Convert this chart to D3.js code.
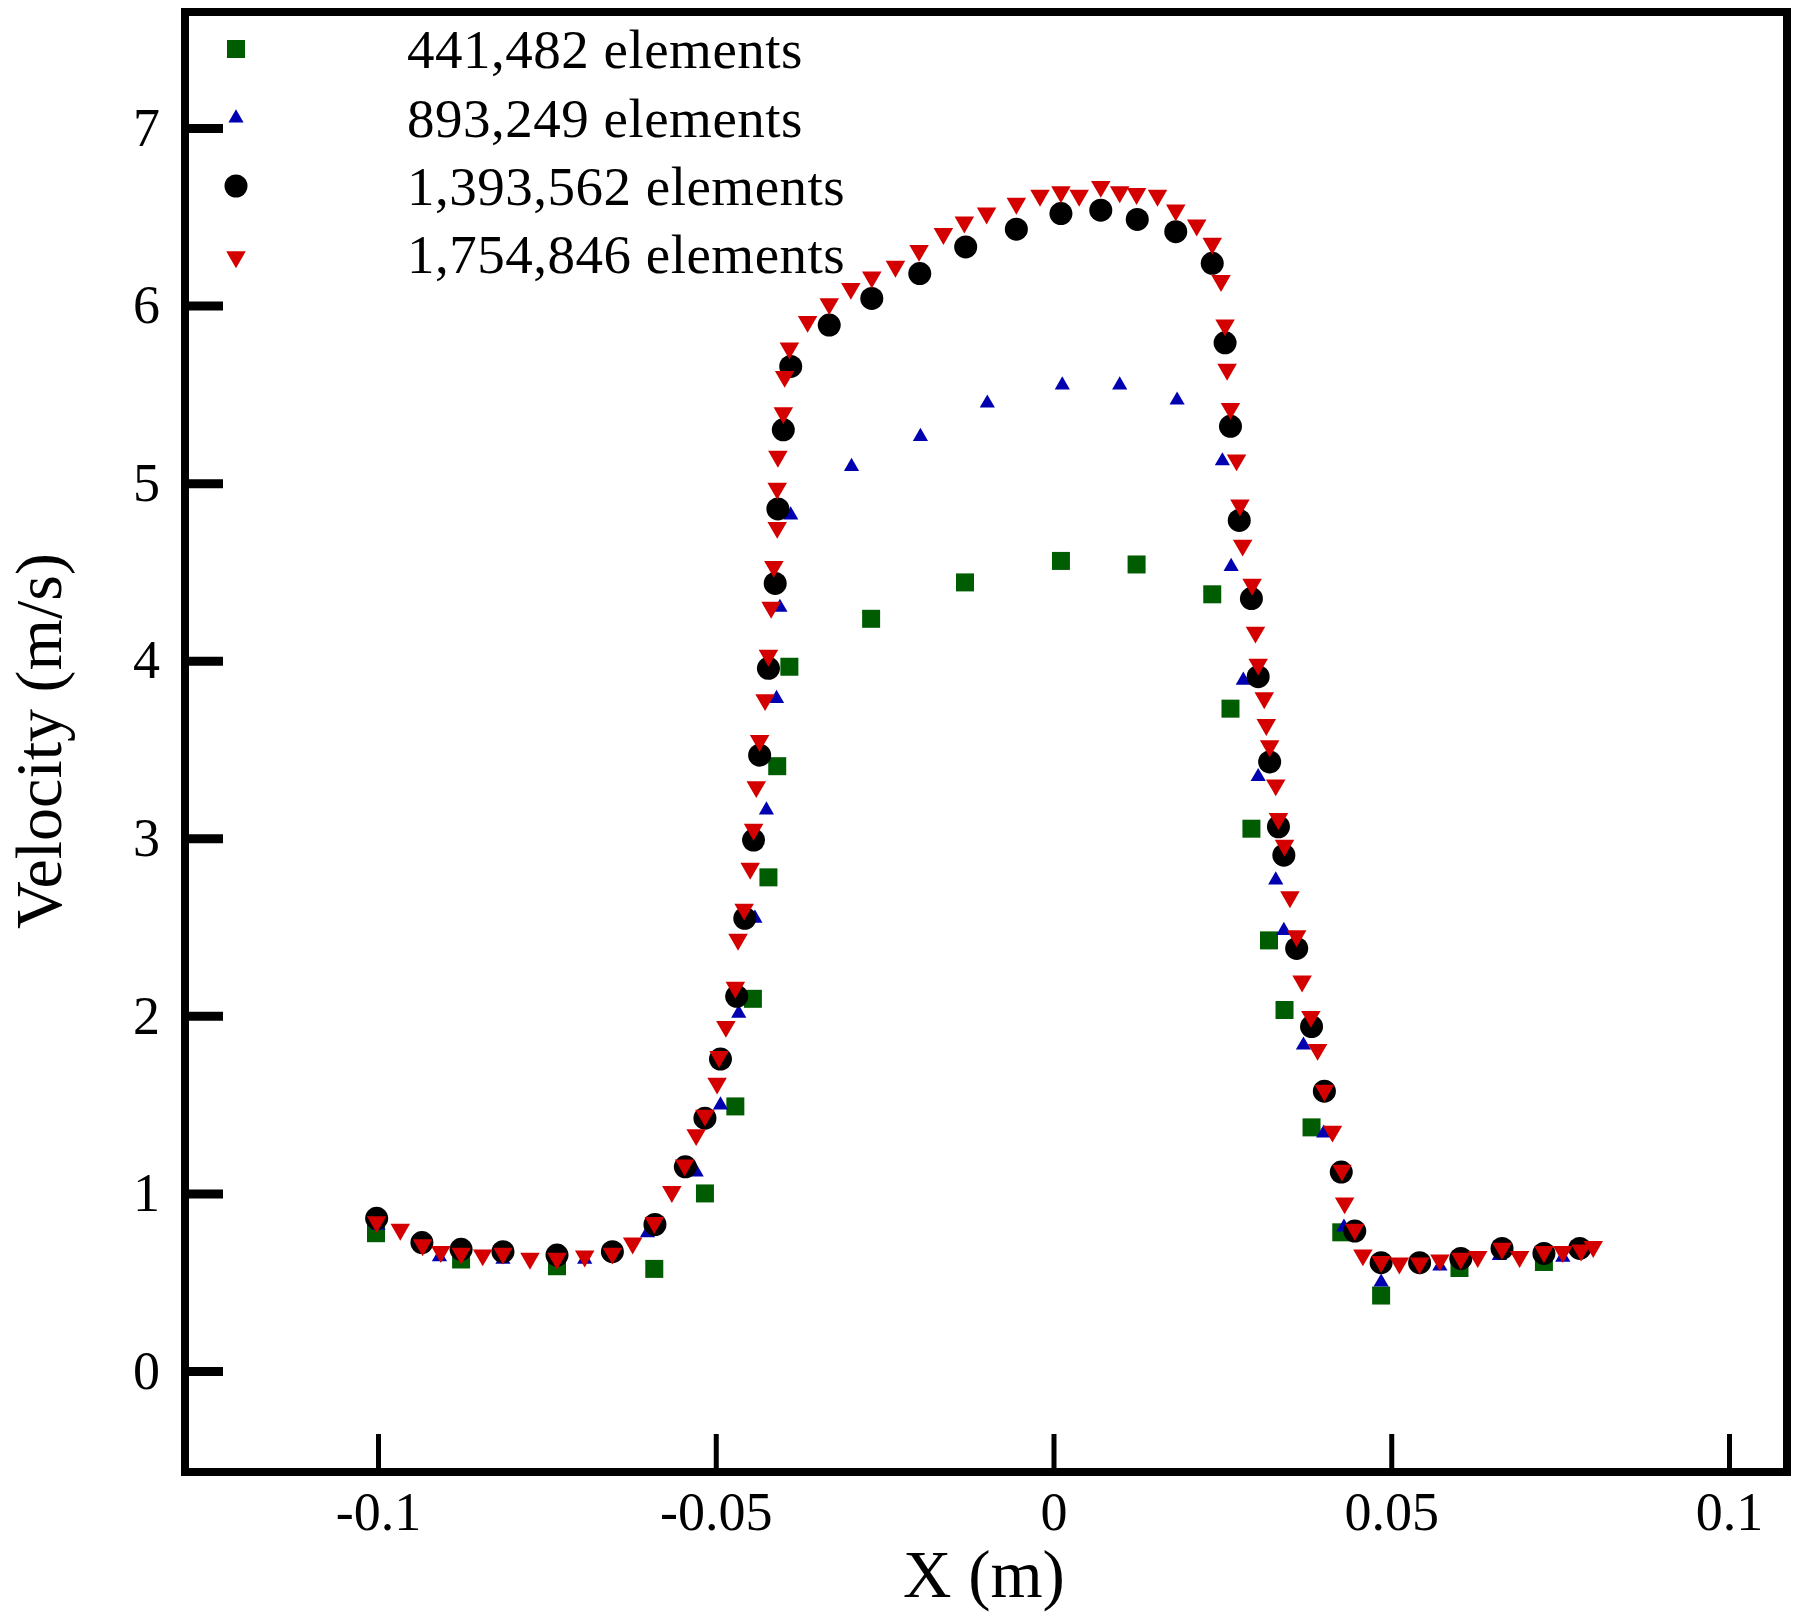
<!DOCTYPE html>
<html>
<head>
<meta charset="utf-8">
<script src="https://cdn.jsdelivr.net/npm/d3@7"></script>
<style>
  html, body { margin: 0; padding: 0; background: #fff; }
  svg { display: block; }
  text { font-family: "Liberation Serif", "Times New Roman", serif; fill: #000; }
</style>
</head>
<body>
<script>
// ---------- data ----------
const seriesNames = ["441,482 elements", "893,249 elements", "1,393,562 elements", "1,754,846 elements"];
const seriesColors = ["#005c00", "#0000b0", "#000000", "#d40000"];

const mesh441 = [
  [-0.1003, 0.776], [-0.0877, 0.628], [-0.0735, 0.590], [-0.0591, 0.575], [-0.0516, 1.000],
  [-0.0471, 1.490], [-0.0445, 2.096], [-0.0422, 2.780], [-0.0409, 3.406], [-0.0391, 3.966],
  [-0.0270, 4.236], [-0.0131, 4.441], [0.0011, 4.562], [0.0123, 4.542], [0.0235, 4.374],
  [0.0262, 3.730], [0.0293, 3.054], [0.0319, 2.425], [0.0342, 2.033], [0.0382, 1.372],
  [0.0426, 0.781], [0.0485, 0.425], [0.0601, 0.580], [0.0726, 0.614]
];

const mesh893 = [
  [-0.1000, 0.820], [-0.0909, 0.643], [-0.0815, 0.628], [-0.0694, 0.628], [-0.0601, 0.778],
  [-0.0529, 1.120], [-0.0493, 1.498], [-0.0466, 2.014], [-0.0442, 2.549], [-0.0425, 3.159],
  [-0.0410, 3.787], [-0.0405, 4.300], [-0.0389, 4.820], [-0.0299, 5.093], [-0.0197, 5.262],
  [-0.0098, 5.450], [0.0013, 5.552], [0.0098, 5.552], [0.0183, 5.467], [0.0250, 5.125],
  [0.0263, 4.530], [0.0281, 3.890], [0.0303, 3.347], [0.0329, 2.765], [0.0341, 2.480],
  [0.0370, 1.835], [0.0400, 1.339], [0.0430, 0.810], [0.0485, 0.500], [0.0572, 0.590],
  [0.0660, 0.650], [0.0754, 0.640]
];

const mesh1393 = [
  [-0.1002, 0.860], [-0.0935, 0.723], [-0.0877, 0.685], [-0.0815, 0.672], [-0.0735, 0.653],
  [-0.0653, 0.672], [-0.0590, 0.825], [-0.0545, 1.150], [-0.0516, 1.424], [-0.0493, 1.757],
  [-0.0469, 2.110], [-0.0457, 2.549], [-0.0444, 2.990], [-0.0435, 3.468], [-0.0422, 3.957],
  [-0.0412, 4.435], [-0.0408, 4.855], [-0.0400, 5.300], [-0.0389, 5.657], [-0.0332, 5.890],
  [-0.0269, 6.040], [-0.0198, 6.180], [-0.0130, 6.330], [-0.0055, 6.430], [0.0011, 6.518],
  [0.0070, 6.537], [0.0124, 6.485], [0.0181, 6.416], [0.0235, 6.238], [0.0254, 5.790],
  [0.0262, 5.320], [0.0275, 4.790], [0.0293, 4.350], [0.0303, 3.910], [0.0320, 3.430],
  [0.0333, 3.065], [0.0341, 2.905], [0.0360, 2.380], [0.0382, 1.940], [0.0401, 1.576],
  [0.0426, 1.120], [0.0446, 0.788], [0.0485, 0.610], [0.0542, 0.610], [0.0603, 0.634],
  [0.0664, 0.690], [0.0726, 0.662], [0.0779, 0.690]
];

const mesh1754 = [
  [-0.1002, 0.840], [-0.0967, 0.797], [-0.0934, 0.710], [-0.0907, 0.672], [-0.0877, 0.663],
  [-0.0845, 0.653], [-0.0815, 0.663], [-0.0775, 0.634], [-0.0735, 0.634], [-0.0694, 0.647],
  [-0.0653, 0.663], [-0.0623, 0.720], [-0.0591, 0.835], [-0.0565, 1.010], [-0.0546, 1.160],
  [-0.0529, 1.330], [-0.0516, 1.440], [-0.0498, 1.620], [-0.0495, 1.770], [-0.0485, 1.940],
  [-0.0471, 2.160], [-0.0467, 2.430], [-0.0458, 2.600], [-0.0449, 2.830], [-0.0444, 3.050],
  [-0.0440, 3.290], [-0.0435, 3.550], [-0.0427, 3.780], [-0.0422, 4.030], [-0.0418, 4.300],
  [-0.0414, 4.530], [-0.0409, 4.750], [-0.0409, 4.970], [-0.0408, 5.150], [-0.0400, 5.395],
  [-0.0398, 5.600], [-0.0391, 5.760], [-0.0364, 5.910], [-0.0332, 6.010], [-0.0300, 6.096],
  [-0.0269, 6.160], [-0.0234, 6.220], [-0.0199, 6.310], [-0.0163, 6.405], [-0.0132, 6.470],
  [-0.0099, 6.520], [-0.0055, 6.575], [-0.0020, 6.620], [0.0011, 6.640], [0.0038, 6.620],
  [0.0070, 6.670], [0.0098, 6.640], [0.0123, 6.630], [0.0154, 6.620], [0.0181, 6.537],
  [0.0212, 6.453], [0.0235, 6.350], [0.0248, 6.140], [0.0254, 5.890], [0.0257, 5.640],
  [0.0262, 5.420], [0.0271, 5.130], [0.0276, 4.876], [0.0280, 4.650], [0.0294, 4.430],
  [0.0299, 4.160], [0.0303, 3.980], [0.0312, 3.790], [0.0315, 3.640], [0.0320, 3.520],
  [0.0329, 3.300], [0.0333, 3.110], [0.0342, 2.960], [0.0350, 2.670], [0.0360, 2.450],
  [0.0368, 2.195], [0.0381, 1.996], [0.0391, 1.810], [0.0401, 1.580], [0.0413, 1.350],
  [0.0427, 1.130], [0.0431, 0.946], [0.0446, 0.797], [0.0458, 0.653], [0.0485, 0.616],
  [0.0512, 0.607], [0.0542, 0.607], [0.0572, 0.625], [0.0603, 0.634], [0.0628, 0.644],
  [0.0664, 0.690], [0.0690, 0.644], [0.0726, 0.672], [0.0754, 0.672], [0.0781, 0.680],
  [0.0799, 0.700]
];

const xTickValues = [-0.1, -0.05, 0, 0.05, 0.1];
const xTickLabels = ["-0.1", "-0.05", "0", "0.05", "0.1"];
const yTickValues = [0, 1, 2, 3, 4, 5, 6, 7];
const yTickLabels = ["0", "1", "2", "3", "4", "5", "6", "7"];
const xTitle = "X (m)";
const yTitle = "Velocity (m/s)";

// ---------- layout ----------
const W = 1798, H = 1618;
const frame = { left: 185, right: 1787, top: 12, bottom: 1472 };

const svg = d3.select("body").append("svg").attr("width", W).attr("height", H);

const x = d3.scaleLinear().domain([-0.1, 0.1]).range([378, 1729]);
const y = d3.scaleLinear().domain([0, 7]).range([1371, 128]);

// frame
svg.append("rect")
  .attr("x", frame.left).attr("y", frame.top)
  .attr("width", frame.right - frame.left).attr("height", frame.bottom - frame.top)
  .attr("fill", "none").attr("stroke", "#000").attr("stroke-width", 8);

// y axis
const yAxis = d3.axisLeft(y)
  .tickValues(yTickValues)
  .tickFormat((d, i) => yTickLabels[i])
  .tickSizeInner(-38).tickSizeOuter(0).tickPadding(25);
const gy = svg.append("g").attr("transform", `translate(${frame.left},0)`).call(yAxis);
gy.select(".domain").remove();
gy.selectAll(".tick line").attr("stroke", "#000").attr("stroke-width", 9);
gy.selectAll(".tick text").attr("font-size", 54).attr("font-family", "Liberation Serif").attr("fill", "#000");

// x axis
const xAxis = d3.axisBottom(x)
  .tickValues(xTickValues)
  .tickFormat((d, i) => xTickLabels[i])
  .tickSizeInner(-38).tickSizeOuter(0).tickPadding(20);
const gx = svg.append("g").attr("transform", `translate(0,${frame.bottom})`).call(xAxis);
gx.select(".domain").remove();
gx.selectAll(".tick line").attr("stroke", "#000").attr("stroke-width", 5);
gx.selectAll(".tick text").attr("font-size", 54).attr("font-family", "Liberation Serif").attr("fill", "#000");

// axis titles
svg.append("text")
  .attr("x", 984).attr("y", 1597)
  .attr("text-anchor", "middle").attr("font-size", 67)
  .text(xTitle);
svg.append("text")
  .attr("transform", "translate(61,741) rotate(-90)")
  .attr("text-anchor", "middle").attr("font-size", 66)
  .text(yTitle);

// ---------- markers ----------
const symSquare = d3.symbol().type(d3.symbolSquare).size(18 * 18);
const symCircle = d3.symbol().type(d3.symbolCircle).size(Math.PI * 11.5 * 11.5);
const symTriUp = d3.symbol().type(d3.symbolTriangle).size(100);
const symTriDown = d3.symbol().type(d3.symbolTriangle).size(165);

const series = [
  { data: mesh441, sym: symSquare, rot: 0 },
  { data: mesh893, sym: symTriUp, rot: 0 },
  { data: mesh1393, sym: symCircle, rot: 0 },
  { data: mesh1754, sym: symTriDown, rot: 180 }
];

const plot = svg.append("g");
series.forEach((s, i) => {
  plot.append("g").selectAll("path")
    .data(s.data)
    .join("path")
    .attr("d", s.sym())
    .attr("transform", d => `translate(${x(d[0])},${y(d[1])}) rotate(${s.rot})`)
    .attr("fill", seriesColors[i]);
});

// ---------- legend ----------
const legendRows = [49, 118, 186, 257];
const legendBase = [68, 137, 205, 273];
const lg = svg.append("g");
series.forEach((s, i) => {
  lg.append("path")
    .attr("d", s.sym())
    .attr("transform", `translate(236,${legendRows[i]}) rotate(${s.rot})`)
    .attr("fill", seriesColors[i]);
  lg.append("text")
    .attr("x", 407).attr("y", legendBase[i])
    .attr("font-size", 55)
    .attr("letter-spacing", 0.5)
    .text(seriesNames[i]);
});
</script>
</body>
</html>
